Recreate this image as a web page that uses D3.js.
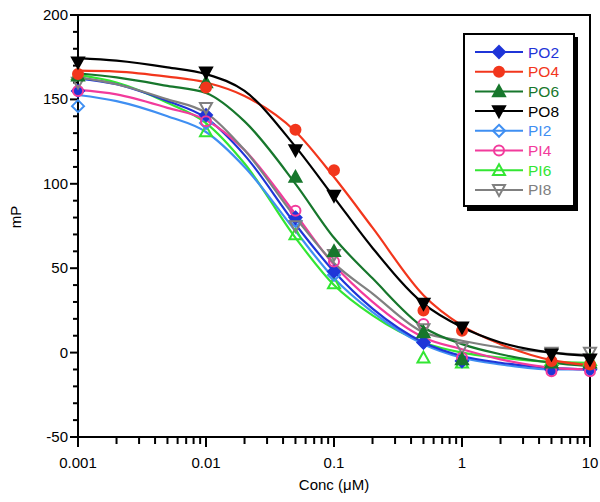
<!DOCTYPE html>
<html><head><meta charset="utf-8">
<script src="https://cdn.jsdelivr.net/npm/d3@7"></script>
<style>body{margin:0;background:#fff}svg{display:block;font-family:"Liberation Sans",Arial,sans-serif}</style>
</head><body><svg id="c" width="600" height="502"></svg>
<script>
// ---- data ----
const seriesNames = ["PO2","PO4","PO6","PO8","PI2","PI4","PI6","PI8"];
const seriesColors = ["#1f35d8","#f2361c","#17772c","#000000","#3f8ff2","#f23b9c","#33e633","#808080"];
const seriesShapes = ["diamond","circle","triUp","triDown","diamond","circle","triUp","triDown"];
const seriesFilled = [true,true,true,true,false,false,false,false];

// measured concentrations (markers)
const concPoints = [0.001,0.01,0.05,0.1,0.5,1,5,10];
const PO2_pts = [155,140.7,80,48,6,-5,-10,-10];
const PO4_pts = [165,157,132,108,25,13,-5,-7];
const PO6_pts = [164,160,104,60,12,-4,-6,-6];
const PO8_pts = [172,166,120,93,29,15,-1,-4];
const PI2_pts = [146,136,78,46,6,-5,-10,-10];
const PI4_pts = [155,137,84,54,17,-3,-11,-11];
const PI6_pts = [165,131,70,41,-3,-6,-4.5,-4.5];
const PI8_pts = [160,145,75,58,14,3,0,0];

// fitted curves
const concCurve = [0.001,0.002,0.005,0.01,0.02,0.05,0.1,0.2,0.5,1,2,5,10];
const PO2_fit = [162.5,159,149,139,117,76,48,26,6,-2,-6,-9,-10];
const PO4_fit = [167,166.5,163.5,160,152,131,104,74,34,16,5,-4.5,-7.5];
const PO6_fit = [165.5,163,158,153.8,137,100,68,44,15,5,-1,-6,-8];
const PO8_fit = [174.5,173,169,165,155,122,92,62,29,15,6,0,-2];
const PI2_fit = [152.6,149,140,130.7,110,72,44,24,5,-3,-7,-10,-10];
const PI4_fit = [155.6,153,145,137.8,120,82,52,30,9,2,-4,-9,-10];
const PI6_fit = [164.5,160,148,136,112,68,40,22,6,0,-3,-5.5,-6];
const PI8_fit = [163,159,150,142,120,80,53,35,12,7,3,0,-1.5];

const pointsBySeries = [PO2_pts,PO4_pts,PO6_pts,PO8_pts,PI2_pts,PI4_pts,PI6_pts,PI8_pts];
const fitBySeries = [PO2_fit,PO4_fit,PO6_fit,PO8_fit,PI2_fit,PI4_fit,PI6_fit,PI8_fit];

const xTicks = [0.001,0.01,0.1,1,10];
const xTickLabels = ["0.001","0.01","0.1","1","10"];
const yTicks = [-50,0,50,100,150,200];

// ---- drawing ----
const svg = d3.select("#c");
const L=78,R=590,T=15,B=437;
const x = d3.scaleLog().domain([0.001,10]).range([L,R]);
const y = d3.scaleLinear().domain([-50,200]).range([B,T]);

// minor ticks
const xMinor=[];
for(let e=-3;e<1;e++){for(let m=2;m<=9;m++){xMinor.push(m*Math.pow(10,e));}}
const yMinor=d3.range(-50,201,10).filter(v=>v%50!==0);

const g=svg.append("g");
// frame
g.append("rect").attr("x",L).attr("y",T).attr("width",R-L).attr("height",B-T)
 .attr("fill","none").attr("stroke","#000").attr("stroke-width",2);

// y axis ticks
g.selectAll(".ymaj").data(yTicks).enter().append("line")
 .attr("x1",L-8).attr("x2",L).attr("y1",d=>y(d)).attr("y2",d=>y(d)).attr("stroke","#000").attr("stroke-width",2);
g.selectAll(".ymin").data(yMinor).enter().append("line")
 .attr("x1",L-5).attr("x2",L).attr("y1",d=>y(d)).attr("y2",d=>y(d)).attr("stroke","#000").attr("stroke-width",2);
g.selectAll(".ylab").data(yTicks).enter().append("text")
 .attr("x",L-10).attr("y",d=>y(d)+5).attr("text-anchor","end").attr("font-size",15).text(d=>d);

// x axis ticks
g.selectAll(".xmaj").data(xTicks).enter().append("line")
 .attr("x1",d=>x(d)).attr("x2",d=>x(d)).attr("y1",B).attr("y2",B+10).attr("stroke","#000").attr("stroke-width",2);
g.selectAll(".xmin").data(xMinor).enter().append("line")
 .attr("x1",d=>x(d)).attr("x2",d=>x(d)).attr("y1",B).attr("y2",B+7).attr("stroke","#000").attr("stroke-width",2);
g.selectAll(".xlab").data(xTicks).enter().append("text")
 .attr("x",d=>x(d)).attr("y",B+31).attr("text-anchor","middle").attr("font-size",15).text((d,i)=>xTickLabels[i]);

// titles
svg.append("text").attr("x",(L+R)/2).attr("y",490).attr("text-anchor","middle").attr("font-size",15).text("Conc (\u03BCM)");
svg.append("text").attr("transform","translate(21,217) rotate(-90)").attr("text-anchor","middle").attr("font-size",15).text("mP");

// curves
const line=d3.line().x(d=>x(d[0])).y(d=>y(d[1])).curve(d3.curveMonotoneX);
const plot=svg.append("g");
const order=[6,4,0,5,7,2,1,3];
order.forEach(i=>{
  plot.append("path").datum(concCurve.map((c,j)=>[c,fitBySeries[i][j]]))
   .attr("d",line).attr("fill","none").attr("stroke",seriesColors[i]).attr("stroke-width",2.2);
});

function symbolPath(shape,s){
  if(shape==="diamond") return `M0,${-s}L${s},0L0,${s}L${-s},0Z`;
  if(shape==="circle") return d3.symbol(d3.symbolCircle, Math.PI*s*s)();
  if(shape==="triUp") return `M0,${-s}L${s},${s*0.8}L${-s},${s*0.8}Z`;
  return `M0,${s}L${s},${-s*0.8}L${-s},${-s*0.8}Z`;
}
function drawMarker(sel,i,cx,cy){
  const s = seriesShapes[i]==="circle"?5:6;
  sel.append("path").attr("d",symbolPath(seriesShapes[i],s))
   .attr("transform",`translate(${cx},${cy})`)
   .attr("fill",seriesFilled[i]?seriesColors[i]:"#fff")
   .attr("fill-opacity",seriesFilled[i]?1:0)
   .attr("stroke",seriesColors[i]).attr("stroke-width",2);
}
order.forEach(i=>{
  concPoints.forEach((c,j)=>drawMarker(plot,i,x(c),y(pointsBySeries[i][j])));
});

// legend
const lg=svg.append("g");
lg.append("rect").attr("x",467).attr("y",37).attr("width",111).attr("height",174).attr("fill","#000");
lg.append("rect").attr("x",464).attr("y",34).attr("width",110).attr("height",172).attr("fill","#fff").attr("stroke","#000").attr("stroke-width",2);
seriesNames.forEach((n,i)=>{
  const yy=52+i*19.7;
  lg.append("line").attr("x1",475).attr("x2",523).attr("y1",yy).attr("y2",yy).attr("stroke",seriesColors[i]).attr("stroke-width",2);
  drawMarker(lg,i,499,yy);
  lg.append("text").attr("x",528).attr("y",yy+5.5).attr("font-size",15.5).attr("fill",seriesColors[i]).text(n);
});
</script></body></html>
